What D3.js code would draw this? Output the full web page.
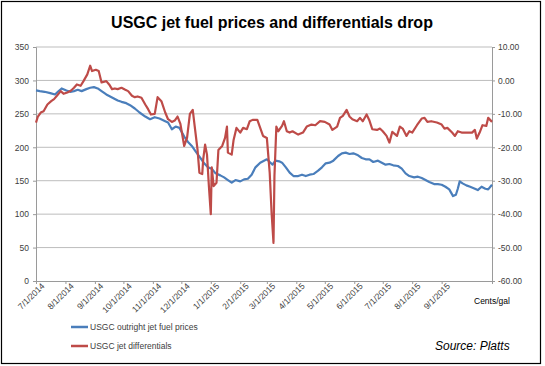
<!doctype html>
<html lang="en">
<head>
<meta charset="UTF-8">
<title>USGC jet fuel</title>
<script src="https://d3js.org/d3.v7.min.js"></script>
<style>
    body { margin: 0; background: #fff; }
    svg { display: block; font-family: 'Liberation Sans', Arial, sans-serif; }
    .tick text { fill: #404040; font-size: 8.5px; }
    .grid line { stroke: #bdbdbd; }
</style>
</head>
<body>
<script>
// outright price, cents/gal (left axis)
const outrightDates = ["2014-07-01","2014-07-05","2014-07-10","2014-07-16","2014-07-21","2014-07-24","2014-07-28","2014-08-02","2014-08-06","2014-08-10","2014-08-14","2014-08-18","2014-08-23","2014-08-27","2014-08-31","2014-09-04","2014-09-08","2014-09-13","2014-09-17","2014-09-21","2014-09-25","2014-09-29","2014-10-04","2014-10-08","2014-10-13","2014-10-18","2014-10-24","2014-10-29","2014-11-03","2014-11-08","2014-11-14","2014-11-17","2014-11-21","2014-11-25","2014-11-29","2014-12-04","2014-12-08","2014-12-12","2014-12-16","2014-12-21","2014-12-25","2014-12-29","2015-01-02","2015-01-06","2015-01-11","2015-01-15","2015-01-19","2015-01-23","2015-01-27","2015-02-01","2015-02-05","2015-02-09","2015-02-13","2015-02-17","2015-02-22","2015-02-26","2015-03-01","2015-03-04","2015-03-07","2015-03-10","2015-03-14","2015-03-17","2015-03-21","2015-03-25","2015-03-29","2015-04-03","2015-04-07","2015-04-11","2015-04-15","2015-04-19","2015-04-24","2015-04-28","2015-05-02","2015-05-06","2015-05-10","2015-05-15","2015-05-19","2015-05-23","2015-05-27","2015-05-31","2015-06-05","2015-06-09","2015-06-13","2015-06-17","2015-06-21","2015-06-26","2015-06-30","2015-07-04","2015-07-08","2015-07-12","2015-07-17","2015-07-21","2015-07-25","2015-07-29","2015-08-03","2015-08-07","2015-08-11","2015-08-15","2015-08-19","2015-08-24","2015-08-28","2015-09-01","2015-09-05","2015-09-09","2015-09-13","2015-09-16","2015-09-18","2015-09-20","2015-09-23","2015-09-27","2015-10-01","2015-10-06","2015-10-09","2015-10-13","2015-10-17","2015-10-20","2015-10-24"];
const outrightValues = [285,284,283,281,279,283,288,285,283,284,286,284,287,289,290,288,284,279,276,273,270,268,266,263,258,252,246,242,245,243,239,237,227,231,229,216,208,202,194,184,176,170,168,161,158,155,151,147,151,149,152,153,159,170,177,180,182,178,174,180,179,177,170,162,157,157,159,157,159,160,165,170,176,177,180,187,191,192,190,191,188,184,182,182,178,180,177,174,175,173,172,168,161,157,155,156,154,151,148,145,145,144,141,137,127,129,138,149,146,143,141,138,136,141,138,137,144];

// jet differential, cents/gal (right axis)
const diffDates = ["2014-07-01","2014-07-03","2014-07-06","2014-07-09","2014-07-13","2014-07-17","2014-07-20","2014-07-23","2014-07-27","2014-07-30","2014-08-03","2014-08-07","2014-08-10","2014-08-13","2014-08-17","2014-08-20","2014-08-24","2014-08-27","2014-08-29","2014-09-02","2014-09-05","2014-09-08","2014-09-13","2014-09-16","2014-09-19","2014-09-22","2014-09-25","2014-09-29","2014-10-03","2014-10-06","2014-10-10","2014-10-13","2014-10-16","2014-10-20","2014-10-24","2014-10-27","2014-10-30","2014-11-03","2014-11-06","2014-11-10","2014-11-14","2014-11-17","2014-11-21","2014-11-24","2014-11-27","2014-11-30","2014-12-04","2014-12-07","2014-12-10","2014-12-13","2014-12-15","2014-12-18","2014-12-20","2014-12-23","2014-12-24","2014-12-26","2014-12-28","2014-12-30","2015-01-01","2015-01-02","2015-01-04","2015-01-07","2015-01-09","2015-01-13","2015-01-16","2015-01-18","2015-01-19","2015-01-23","2015-01-25","2015-01-28","2015-02-01","2015-02-04","2015-02-08","2015-02-11","2015-02-14","2015-02-19","2015-02-25","2015-03-01","2015-03-04","2015-03-06","2015-03-08","2015-03-09","2015-03-11","2015-03-13","2015-03-17","2015-03-19","2015-03-22","2015-03-25","2015-03-28","2015-04-03","2015-04-08","2015-04-12","2015-04-17","2015-04-21","2015-04-26","2015-05-01","2015-05-06","2015-05-09","2015-05-14","2015-05-17","2015-05-20","2015-05-24","2015-05-27","2015-05-30","2015-06-04","2015-06-07","2015-06-10","2015-06-14","2015-06-17","2015-06-20","2015-06-25","2015-06-28","2015-07-01","2015-07-05","2015-07-08","2015-07-11","2015-07-16","2015-07-19","2015-07-22","2015-07-26","2015-07-29","2015-08-01","2015-08-06","2015-08-11","2015-08-14","2015-08-17","2015-08-21","2015-08-27","2015-09-01","2015-09-04","2015-09-07","2015-09-12","2015-09-15","2015-09-18","2015-09-22","2015-09-27","2015-10-03","2015-10-06","2015-10-08","2015-10-11","2015-10-14","2015-10-18","2015-10-20","2015-10-24"];
const diffValues = [-12.6,-10.8,-9.6,-9.2,-7.2,-6.2,-5.6,-4.6,-3.2,-4.0,-3.6,-3.0,-2.2,-1.2,-1.6,-0.2,1.8,4.4,2.8,3.2,2.8,-0.6,-0.2,-1.2,-2.6,-2.4,-2.6,-2.2,-2.8,-3.2,-4.6,-5.0,-4.8,-5.2,-7.2,-8.6,-10.2,-10.0,-5.0,-6.2,-9.6,-11.6,-12.4,-12.0,-10.8,-13.0,-19.6,-17.2,-10.0,-8.8,-13.6,-20.6,-27.6,-28.0,-23.6,-19.2,-22.2,-31.6,-40.0,-26.0,-31.6,-30.6,-20.8,-19.6,-17.2,-13.8,-21.6,-22.2,-17.8,-14.2,-15.6,-14.2,-14.6,-12.2,-11.8,-11.8,-16.6,-17.2,-27.6,-39.6,-48.6,-28.6,-13.8,-15.2,-13.6,-12.2,-15.2,-15.6,-15.2,-16.2,-15.6,-13.8,-13.2,-13.4,-12.2,-12.4,-13.2,-14.8,-13.8,-11.2,-10.6,-8.8,-10.8,-11.6,-12.2,-11.2,-12.2,-10.2,-12.0,-14.6,-14.8,-14.4,-15.2,-16.6,-18.6,-15.4,-16.6,-13.8,-14.4,-16.6,-15.2,-15.6,-13.4,-11.4,-11.2,-12.4,-12.2,-12.6,-13.2,-14.4,-14.2,-15.6,-16.6,-15.2,-15.6,-15.6,-15.6,-14.8,-17.4,-15.6,-13.4,-13.6,-11.2,-12.4];

const tickDates = ["2014-07-01","2014-08-01","2014-09-01","2014-10-01","2014-11-01","2014-12-01","2015-01-01","2015-02-01","2015-03-01","2015-04-01","2015-05-01","2015-06-01","2015-07-01","2015-08-01","2015-09-01"];
const leftTicks = [0, 50, 100, 150, 200, 250, 300, 350];
const rightTicks = [-60, -50, -40, -30, -20, -10, 0, 10];

const parse = d3.timeParse("%Y-%m-%d");
const outright = outrightDates.map((d, i) => ({date: parse(d), value: outrightValues[i]}));
const diffs = diffDates.map((d, i) => ({date: parse(d), value: diffValues[i]}));

const width = 545, height = 366;
const plot = {left: 36, right: 492, top: 47, bottom: 281};

const svg = d3.select('body').append('svg')
    .attr('width', width)
    .attr('height', height);

// frame
svg.append('rect')
    .attr('x', 1.5).attr('y', 1.5)
    .attr('width', 539).attr('height', 362)
    .attr('fill', '#fff')
    .attr('stroke', '#000')
    .attr('stroke-width', 1.2);

svg.append('text')
    .attr('x', 272).attr('y', 28)
    .attr('text-anchor', 'middle')
    .style('font-size', '16px')
    .style('font-weight', 'bold')
    .text('USGC jet fuel prices and differentials drop');

const x = d3.scaleTime()
    .domain([parse("2014-07-01"), parse("2015-10-24")])
    .range([plot.left, plot.right]);
const yL = d3.scaleLinear().domain([0, 350]).range([plot.bottom, plot.top]);
const yR = d3.scaleLinear().domain([-60, 10]).range([plot.bottom, plot.top]);

// gridlines
svg.append('g')
    .attr('class', 'grid')
    .selectAll('line')
    .data(leftTicks.slice(1))
    .enter().append('line')
    .attr('x1', plot.left).attr('x2', plot.right)
    .attr('y1', d => yL(d)).attr('y2', d => yL(d));

const axisColor = '#9a9a9a';

const gL = svg.append('g')
    .attr('transform', `translate(${plot.left},0)`)
    .call(d3.axisLeft(yL).tickValues(leftTicks).tickSize(3).tickPadding(4));

const gR = svg.append('g')
    .attr('transform', `translate(${plot.right},0)`)
    .call(d3.axisRight(yR).tickValues(rightTicks).tickSize(3).tickPadding(3)
        .tickFormat(d => d.toFixed(2)));

const gX = svg.append('g')
    .attr('transform', `translate(0,${plot.bottom})`)
    .call(d3.axisBottom(x).tickValues(tickDates.map(parse)).tickSize(3)
        .tickFormat(d3.timeFormat("%-m/%-d/%Y")));

gX.selectAll('.tick text')
    .attr('text-anchor', 'end')
    .attr('dx', '2')
    .attr('dy', '4')
    .attr('transform', 'rotate(-45)');

[gL, gR, gX].forEach(g => {
    g.select('.domain').attr('stroke', axisColor);
    g.selectAll('.tick line').attr('stroke', axisColor);
    g.selectAll('.tick text').style('font-family', "'Liberation Sans', Arial, sans-serif");
});

const lineL = d3.line().x(d => x(d.date)).y(d => yL(d.value));
const lineR = d3.line().x(d => x(d.date)).y(d => yR(d.value));

svg.append('path')
    .datum(outright)
    .attr('fill', 'none')
    .attr('stroke', '#4a7ebb')
    .attr('stroke-width', 2.2)
    .attr('stroke-linejoin', 'round')
    .attr('d', lineL);

svg.append('path')
    .datum(diffs)
    .attr('fill', 'none')
    .attr('stroke', '#be4b48')
    .attr('stroke-width', 2.2)
    .attr('stroke-linejoin', 'round')
    .attr('d', lineR);

svg.append('text')
    .attr('x', 474).attr('y', 304)
    .style('font-size', '8.5px')
    .text('Cents/gal');

// legend
const legend = [
    {name: 'USGC outright jet fuel prices', color: '#4a7ebb'},
    {name: 'USGC jet differentials', color: '#be4b48'}
];
const lg = svg.selectAll('.legend')
    .data(legend)
    .enter().append('g')
    .attr('transform', (d, i) => `translate(71,${327 + i * 19})`);
lg.append('line')
    .attr('x1', 0).attr('x2', 17)
    .attr('stroke', d => d.color)
    .attr('stroke-width', 2.5);
lg.append('text')
    .attr('x', 19).attr('dy', '0.35em')
    .style('font-size', '8.5px')
    .style('fill', '#404040')
    .text(d => d.name);

svg.append('text')
    .attr('x', 435).attr('y', 350)
    .style('font-size', '12px')
    .style('font-style', 'italic')
    .text('Source: Platts');
</script>
</body>
</html>
